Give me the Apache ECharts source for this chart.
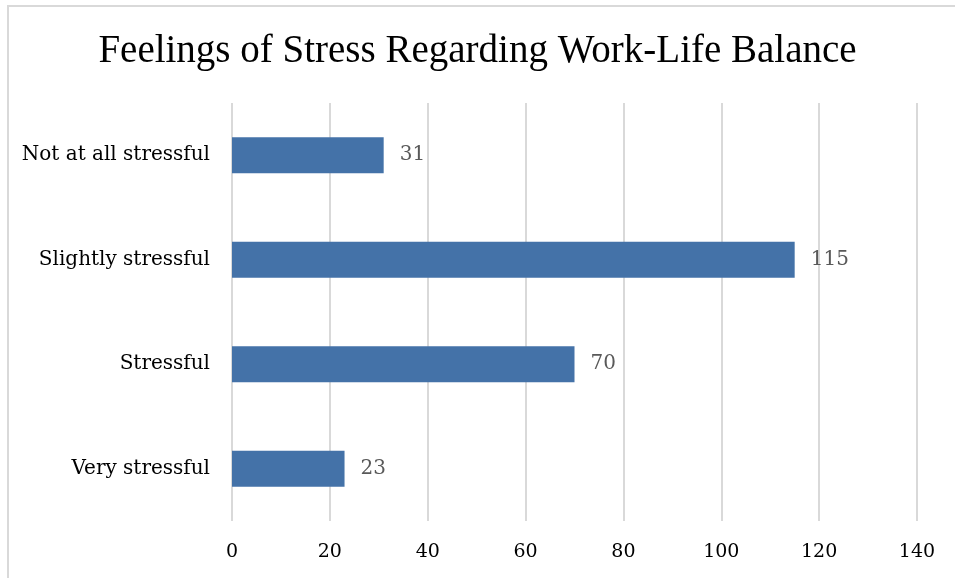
<!DOCTYPE html>
<html>
<head>
<meta charset="UTF-8">
<title>Feelings of Stress</title>
<script src="https://cdn.jsdelivr.net/npm/echarts@6/dist/echarts.min.js"></script>
<style>
html, body { margin: 0; padding: 0; background: #fff; overflow: hidden; }
#frame { position: absolute; left: 7px; top: 5px; width: 960px; height: 590px; border: 2px solid #d9d9d9; box-sizing: border-box; }
#chart { position: absolute; left: 0; top: 0; width: 955px; height: 578px; }
</style>
</head>
<body>
<div id="frame"></div>
<div id="chart"></div>
<script>
var categories = ['Very stressful', 'Stressful', 'Slightly stressful', 'Not at all stressful'];
var counts = [23, 70, 115, 31];
var xTicks = [0, 140, 20];

var serif = '"DejaVu Serif", "Liberation Serif", serif';
var titleFont = '"Liberation Serif", "DejaVu Serif", serif';
var myChart = echarts.init(document.getElementById('chart'));
var option = {
	animation: false,
	title: {
		text: 'Feelings of Stress Regarding Work-Life Balance',
		left: 'center',
		top: 27,
		textStyle: { fontFamily: titleFont, fontWeight: 'normal', fontSize: 39, color: '#000' }
	},
	grid: { left: 232, right: 38, top: 103, bottom: 57, containLabel: false },
	xAxis: {
		type: 'value',
		min: xTicks[0],
		max: xTicks[1],
		interval: xTicks[2],
		axisLine: { show: false },
		axisTick: { show: false },
		axisLabel: { fontFamily: serif, fontSize: 19, color: '#000', margin: 22 },
		splitLine: { lineStyle: { color: '#d9d9d9', width: 2 } }
	},
	yAxis: {
		type: 'category',
		data: categories,
		axisLine: { show: false },
		axisTick: { show: false },
		axisLabel: { fontFamily: serif, fontSize: 20, color: '#000', margin: 22 }
	},
	series: [{
		type: 'bar',
		data: counts,
		barWidth: 36,
		itemStyle: { color: '#4472a8' },
		label: {
			show: true,
			position: 'right',
			distance: 16,
			fontFamily: serif,
			fontSize: 20,
			color: '#595959'
		}
	}]
};
myChart.setOption(option);
</script>
</body>
</html>
